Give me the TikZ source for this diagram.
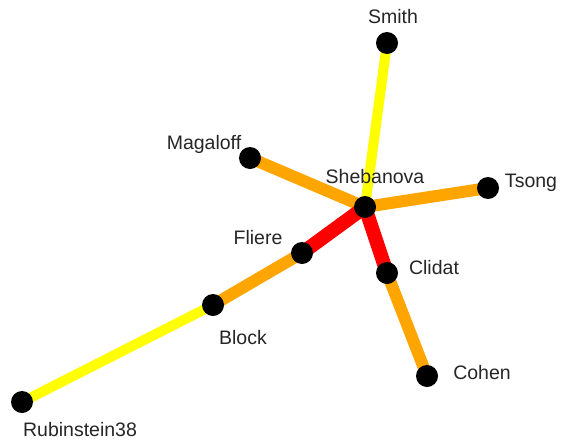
\documentclass[tikz,border=0pt]{standalone}
\usepackage{fontspec}
\setmainfont{Liberation Sans}
\begin{document}
\begin{tikzpicture}[x=1pt,y=-1pt,
  vertex/.style={circle,fill=black,minimum size=22pt,inner sep=0pt},
  lbl/.style={text=black!85,font=\fontsize{19.5}{21}\selectfont,inner sep=0pt},
  weak/.style={draw={rgb,255:red,255;green,255;blue,0},line width=10pt},
  mid/.style={draw={rgb,255:red,255;green,165;blue,0},line width=12pt},
  strong/.style={draw={rgb,255:red,255;green,0;blue,0},line width=14pt}]
\useasboundingbox[fill=white] (0,0) rectangle (564,442);
% vertex positions
\coordinate (smith) at (387,43);
\coordinate (magaloff) at (250,158);
\coordinate (shebanova) at (365,207);
\coordinate (tsong) at (488,188);
\coordinate (fliere) at (302,253);
\coordinate (clidat) at (387,273);
\coordinate (block) at (213,305);
\coordinate (cohen) at (427,376);
\coordinate (rubinstein) at (22,402);
% edges, coloured by strength
\draw[weak] (smith) -- (shebanova);
\draw[mid] (magaloff) -- (shebanova);
\draw[mid] (tsong) -- (shebanova);
\draw[mid] (fliere) -- (block);
\draw[mid] (clidat) -- (cohen);
\draw[weak] (block) -- (rubinstein);
\draw[strong] (shebanova) -- (fliere);
\draw[strong] (shebanova) -- (clidat);
% vertices
\foreach \v in {smith,magaloff,shebanova,tsong,fliere,clidat,block,cohen,rubinstein}
  \node[vertex] (n-\v) at (\v) {};
% labels
\node[lbl] (l-smith) at (393,17) {Smith};
\node[lbl] (l-magaloff) at (204,144) {Magaloff};
\node[lbl] (l-shebanova) at (375,177) {Shebanova};
\node[lbl] (l-tsong) at (531,183) {Tsong};
\node[lbl] (l-fliere) at (258,238) {Fliere};
\node[lbl] (l-clidat) at (434,268) {Clidat};
\node[lbl] (l-block) at (243,338) {Block};
\node[lbl] (l-cohen) at (482,373) {Cohen};
\node[lbl] (l-rubinstein) at (80,430) {Rubinstein38};
\end{tikzpicture}
\end{document}
